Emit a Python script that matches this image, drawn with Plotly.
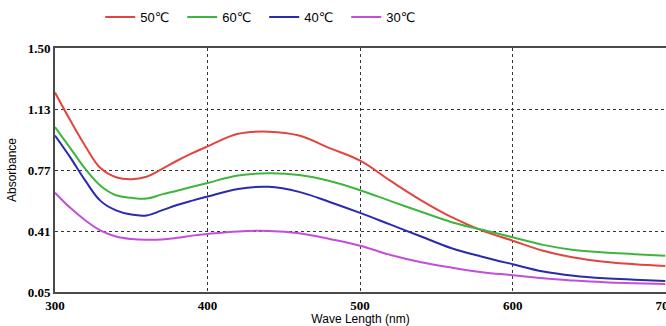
import plotly.graph_objects as go

wavelength = [300, 310, 320, 330, 340, 350, 360, 370, 380, 390, 400, 420, 440, 460,
              480, 500, 520, 540, 560, 580, 600, 620, 640, 660, 680, 700]

abs_50 = [1.235, 1.07, 0.915, 0.785, 0.732, 0.72, 0.735, 0.78, 0.83, 0.875, 0.915, 0.99,
          1.003, 0.98, 0.905, 0.83, 0.71, 0.595, 0.495, 0.415, 0.355, 0.295, 0.255,
          0.23, 0.215, 0.205]
abs_60 = [1.03, 0.905, 0.78, 0.68, 0.625, 0.61, 0.605, 0.63, 0.652, 0.675, 0.698, 0.742,
          0.755, 0.745, 0.71, 0.655, 0.59, 0.527, 0.465, 0.42, 0.375, 0.33, 0.30,
          0.285, 0.275, 0.265]
abs_40 = [0.98, 0.85, 0.71, 0.59, 0.535, 0.51, 0.505, 0.535, 0.567, 0.593, 0.617, 0.662,
          0.675, 0.645, 0.585, 0.52, 0.45, 0.38, 0.31, 0.26, 0.215, 0.172, 0.147,
          0.132, 0.123, 0.115]
abs_30 = [0.64, 0.55, 0.475, 0.415, 0.38, 0.365, 0.36, 0.362, 0.372, 0.385, 0.395, 0.41,
          0.413, 0.399, 0.365, 0.325, 0.27, 0.227, 0.195, 0.168, 0.15, 0.131, 0.118,
          0.108, 0.102, 0.097]

series_names = ["50℃", "60℃", "40℃", "30℃"]
series_values = [abs_50, abs_60, abs_40, abs_30]
colors = ["#e0453f", "#3fb43f", "#2a2ab0", "#c24fd8"]

x_ticks = [300, 400, 500, 600, 700]
y_ticks = [0.05, 0.4125, 0.775, 1.1375, 1.5]
y_tick_labels = ["0.05", "0.41", "0.77", "1.13", "1.50"]

fig = go.Figure()
for name, vals, col in zip(series_names, series_values, colors):
    fig.add_trace(go.Scatter(x=wavelength, y=vals, mode="lines", name=name,
                             line=dict(color=col, width=2, shape="spline", smoothing=1.1)))

fig.update_layout(
    width=666, height=326,
    margin=dict(l=55, r=0, t=48, b=34),
    paper_bgcolor="white", plot_bgcolor="white",
    font=dict(family="Liberation Sans, Arial, sans-serif", color="black", size=12),
    legend=dict(orientation="h", x=0.074, xanchor="left", y=1.127, yanchor="middle",
                font=dict(size=13, family="Liberation Sans, DejaVu Sans, sans-serif"),
                entrywidth=37, tracegroupgap=0, bgcolor="rgba(0,0,0,0)"),
    xaxis=dict(range=[300, 700.5], tickvals=x_ticks, ticktext=[f"<b>{t}</b>" for t in x_ticks],
               tickfont=dict(family="Liberation Serif, Times New Roman, serif", size=13),
               showgrid=True, gridcolor="#333333", griddash="dot", gridwidth=1.2,
               showline=True, linecolor="#4a4a4a", linewidth=2, mirror=True,
               ticks="", zeroline=False, automargin=False, ticklabeloverflow="allow",
               title=dict(text="Wave Length (nm)", font=dict(size=12), standoff=3)),
    yaxis=dict(range=[0.05, 1.5], tickvals=y_ticks,
               ticktext=[f"<b>{t}</b>" for t in y_tick_labels],
               tickfont=dict(family="Liberation Serif, Times New Roman, serif", size=13),
               showgrid=True, gridcolor="#333333", griddash="dot", gridwidth=1.2,
               showline=True, linecolor="#4a4a4a", linewidth=2,
               ticks="", zeroline=False, ticklabelstandoff=0,
               title=dict(text="Absorbance", font=dict(size=12), standoff=8)),
)

fig.write_html("out.html", default_width="666px", default_height="326px",
               config={"displayModeBar": False},
               post_script="document.body.style.margin='0';document.body.style.overflow='hidden';")
